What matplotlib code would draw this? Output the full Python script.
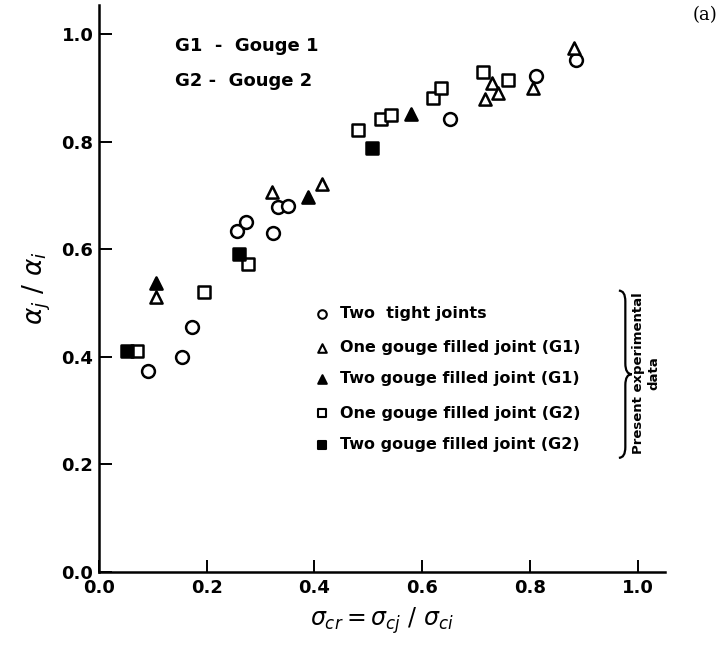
import matplotlib
matplotlib.use('Agg')
import matplotlib.pyplot as plt
from matplotlib.path import Path
from matplotlib.patches import PathPatch

# data
tight_x = [0.091, 0.154, 0.173, 0.256, 0.272, 0.323, 0.332, 0.351, 0.651, 0.811, 0.885]
tight_y = [0.373, 0.400, 0.456, 0.634, 0.651, 0.631, 0.679, 0.681, 0.842, 0.922, 0.952]

one_g1_x = [0.106, 0.321, 0.414, 0.716, 0.729, 0.740, 0.805, 0.881]
one_g1_y = [0.512, 0.707, 0.722, 0.879, 0.909, 0.890, 0.900, 0.974]

two_g1_x = [0.106, 0.388, 0.579]
two_g1_y = [0.538, 0.698, 0.852]

one_g2_x = [0.070, 0.195, 0.277, 0.481, 0.523, 0.542, 0.620, 0.634, 0.713, 0.759]
one_g2_y = [0.410, 0.520, 0.573, 0.822, 0.842, 0.850, 0.881, 0.900, 0.929, 0.915]

two_g2_x = [0.052, 0.260, 0.506]
two_g2_y = [0.410, 0.592, 0.789]

legend_labels = ['Two  tight joints',
                 'One gouge filled joint (G1)',
                 'Two gouge filled joint (G1)',
                 'One gouge filled joint (G2)',
                 'Two gouge filled joint (G2)']

ticks = [0.0, 0.2, 0.4, 0.6, 0.8, 1.0]

fig = plt.figure(figsize=(7.28, 6.58), dpi=100)
ax = fig.add_axes([0.136, 0.131, 0.777, 0.862])

ms = 85
ew = 1.8
ax.scatter(tight_x, tight_y, s=ms, marker='o', facecolors='white', edgecolors='black', linewidths=ew, zorder=3)
ax.scatter(one_g1_x, one_g1_y, s=ms * 0.9, marker='^', facecolors='white', edgecolors='black', linewidths=ew, zorder=3)
ax.scatter(two_g1_x, two_g1_y, s=ms * 0.9, marker='^', facecolors='black', edgecolors='black', linewidths=ew, zorder=3)
ax.scatter(one_g2_x, one_g2_y, s=ms * 0.85, marker='s', facecolors='white', edgecolors='black', linewidths=ew, zorder=3)
ax.scatter(two_g2_x, two_g2_y, s=ms * 0.85, marker='s', facecolors='black', edgecolors='black', linewidths=ew, zorder=4)

ax.set_xlim(0, 1.05)
ax.set_ylim(0, 1.055)
ax.set_xticks(ticks)
ax.set_yticks(ticks)
ax.set_xticklabels(['%.1f' % t for t in ticks], fontsize=13, fontweight='bold')
ax.set_yticklabels(['%.1f' % t for t in ticks], fontsize=13, fontweight='bold')
ax.tick_params(direction='in', length=9, width=1.4)
ax.tick_params(axis='x', pad=5)
ax.tick_params(axis='y', pad=4)
for s in ['top', 'right']:
    ax.spines[s].set_visible(False)
for s in ['left', 'bottom']:
    ax.spines[s].set_linewidth(1.8)

ax.set_xlabel(r'$\sigma_{cr} = \sigma_{cj}\ /\ \sigma_{ci}$', fontsize=17, labelpad=6)
ax.set_ylabel(r'$\alpha_j\ /\ \alpha_i$', fontsize=19, labelpad=6)

ax.text(0.141, 0.978, 'G1  -  Gouge 1', fontsize=13, fontweight='bold', va='center')
ax.text(0.141, 0.913, 'G2 -  Gouge 2', fontsize=13, fontweight='bold', va='center')

# legend drawn by hand
leg_y = [0.480, 0.417, 0.359, 0.295, 0.236]
leg_m = [('o', 'white'), ('^', 'white'), ('^', 'black'), ('s', 'white'), ('s', 'black')]
for yy, (m, fc), lab in zip(leg_y, leg_m, legend_labels):
    ax.scatter([0.414], [yy], s=38, marker=m, facecolors=fc, edgecolors='black', linewidths=1.5, clip_on=False)
    ax.text(0.448, yy, lab, fontsize=11.5, fontweight='bold', va='center')

# brace
x0, w = 0.965, 0.024
yt, yb = 0.523, 0.212
ym = (yt + yb) / 2
r = 0.02
verts = [(x0, yt), (x0 + w / 2, yt), (x0 + w / 2, yt - r),
         (x0 + w / 2, ym + r),
         (x0 + w / 2, ym), (x0 + w, ym),
         (x0 + w / 2, ym), (x0 + w / 2, ym - r),
         (x0 + w / 2, yb + r),
         (x0 + w / 2, yb), (x0, yb)]
codes = [Path.MOVETO, Path.CURVE3, Path.CURVE3,
         Path.LINETO,
         Path.CURVE3, Path.CURVE3,
         Path.CURVE3, Path.CURVE3,
         Path.LINETO,
         Path.CURVE3, Path.CURVE3]
ax.add_patch(PathPatch(Path(verts, codes), facecolor='none', edgecolor='black', lw=1.6, clip_on=False))
ax.text(1.002, 0.37, 'Present experimental', rotation=90, fontsize=9.5, fontweight='bold', ha='center', va='center')
ax.text(1.030, 0.37, 'data', rotation=90, fontsize=9.5, fontweight='bold', ha='center', va='center')

fig.text(0.968, 0.977, '(a)', fontsize=13, family='DejaVu Serif', ha='center', va='center')

fig.savefig('out.png', dpi=100)
